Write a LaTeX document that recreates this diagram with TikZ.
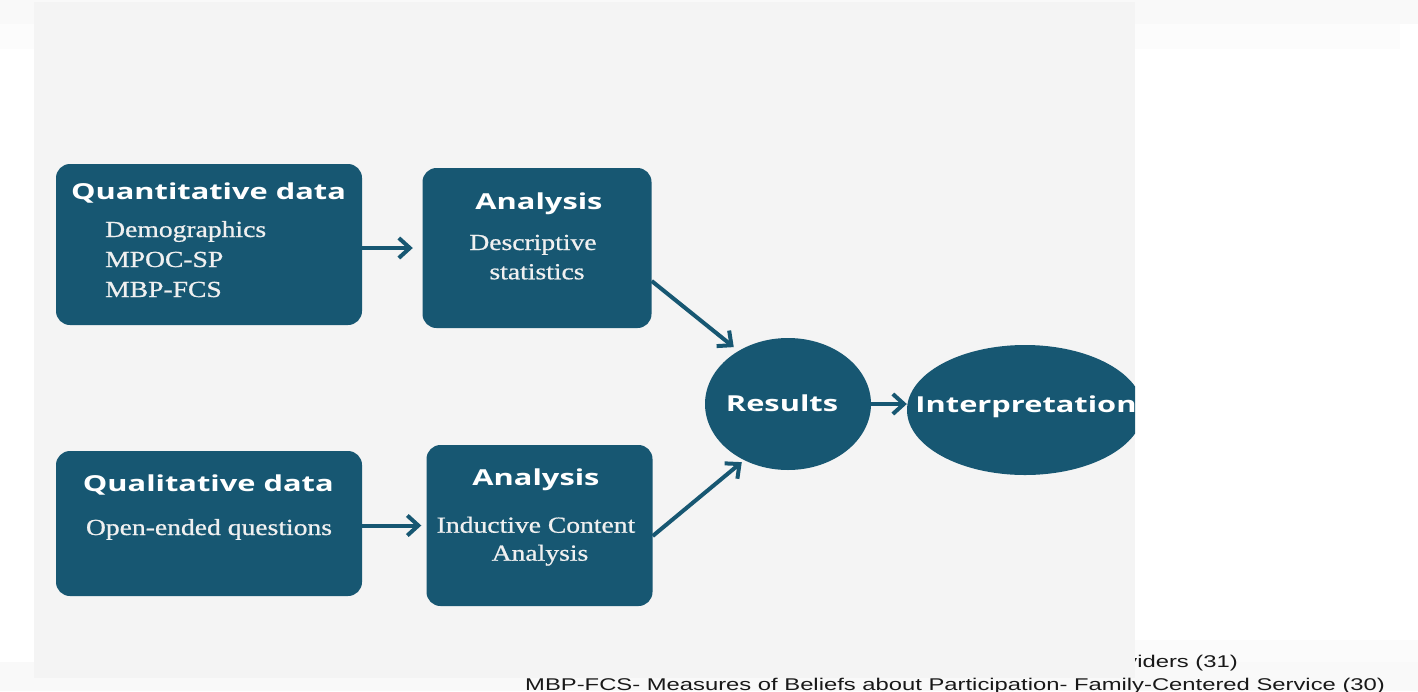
\documentclass[tikz,border=0pt]{standalone}
\usepackage{fontspec}
\usepackage{graphicx}
\usetikzlibrary{arrows.meta,shapes.geometric,calc}
\newfontfamily\headfont{Open Sans}
\newfontfamily\bodyfont{Liberation Serif}[FakeBold=0.7]
\newfontfamily\notefont{Liberation Sans}
% all lettering in this chart is set wide
\newcommand\widehead[1]{\scalebox{1.4}[1]{#1}}
\newcommand\widebody[1]{\scalebox{1.2}[1]{#1}}
\definecolor{flowblue}{RGB}{23,87,114}
\definecolor{panelgray}{HTML}{F4F4F4}
\begin{document}
\begin{tikzpicture}[x=1pt,y=-1pt,
  stepbox/.style={fill=flowblue,rounded corners=14pt,inner sep=0pt},
  oval/.style={ellipse,fill=flowblue,inner sep=0pt},
  headtext/.style={anchor=base,inner sep=0pt,text=white,
    font=\headfont\bfseries\fontsize{22}{26}\selectfont},
  bodytext/.style={anchor=base,inner sep=0pt,text=white!94!black,
    font=\bodyfont\fontsize{23}{27}\selectfont},
  notetext/.style={inner sep=0pt,text=black!90,
    font=\notefont\fontsize{17}{20}\selectfont},
  flow/.style={draw=flowblue,line width=4pt,
    -{Straight Barb[length=11pt,width=20pt]}}]
\useasboundingbox (0,0) rectangle (1418,691);
% faint bands around the panel
\fill[black!2.5] (0,0) rectangle (1418,24);
\fill[black!1.2] (0,24) rectangle (1400,49);
\fill[black!1.5] (1135,640) rectangle (1418,662);
\fill[black!2.5] (0,662) rectangle (1418,691);
% footnote line partly under the panel
\node[notetext,anchor=base east] (fnA) at (1238,667.5) {\scalebox{1.4}[1]{viders (31)}};
% panel
\fill[panelgray] (34,2) rectangle (1135,678);

% boxes
\node[stepbox,minimum width=306pt,minimum height=161pt] (q1) at (209,244.5) {};
\node[stepbox,minimum width=229pt,minimum height=160pt] (a1) at (537,248) {};
\node[stepbox,minimum width=306pt,minimum height=145pt] (q2) at (209,523.5) {};
\node[stepbox,minimum width=226pt,minimum height=161pt] (a2) at (539.5,525.5) {};
\node[oval,minimum width=166pt,minimum height=132pt] (res) at (788,404) {};
\begin{scope}
  \clip (34,2) rectangle (1135,678);
  \node[oval,minimum width=236pt,minimum height=130pt] (interp) at (1025,410) {};
\end{scope}

% box texts
\node[headtext] (q1title) at (208.5,199) {\widehead{Quantitative data}};
\node[bodytext,anchor=base west] (q1l1) at (105,237) {\widebody{Demographics}};
\node[bodytext,anchor=base west] (q1l2) at (105,267) {\widebody{MPOC-SP}};
\node[bodytext,anchor=base west] (q1l3) at (105,297) {\widebody{MBP-FCS}};

\node[headtext] (a1title) at (539,209.3) {\widehead{Analysis}};
\node[bodytext] (a1l1) at (533,250) {\widebody{Descriptive}};
\node[bodytext] (a1l2) at (537,279.3) {\widebody{statistics}};

\node[headtext] (q2title) at (208.3,491) {\widehead{Qualitative data}};
\node[bodytext] (q2l1) at (209,535) {\widebody{Open-ended questions}};

\node[headtext] (a2title) at (536,485) {\widehead{Analysis}};
\node[bodytext] (a2l1) at (536,532.7) {\widebody{Inductive Content}};
\node[bodytext] (a2l2) at (540,560.7) {\widebody{Analysis}};

\node[headtext] (restext) at (782,411.7) {\widehead{Results}};
\node[headtext] (interptext) at (1026,412) {\widehead{Interpretation}};

% connectors
\draw[flow,shorten >=9.5pt] (a1.west -| q1.east) -- (a1.west);
\draw[flow,shorten >=5pt] (a2.west -| q2.east) -- (a2.west);
\draw[flow,shorten >=6pt] ($(a1.east)+(0,33)$) -- (res.133);
\draw[flow,shorten >=3pt] ($(a2.east)+(0,10.5)$) -- (res.232);
\draw[flow] (res.east) -- (res.east -| interp.west);

% footnote line below the panel
\node[notetext,anchor=base west] (fnB) at (525,690.5)
  {\scalebox{1.4}[1]{MBP-FCS- Measures of Beliefs about Participation- Family-Centered Service (30)}};
\end{tikzpicture}
\end{document}
